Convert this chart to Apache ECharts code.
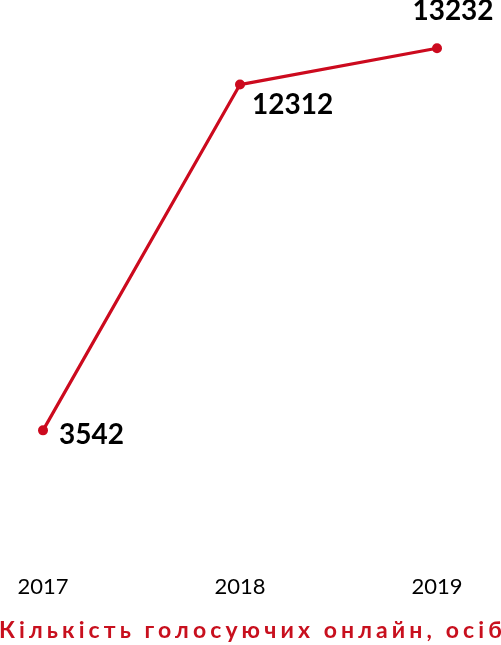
<!DOCTYPE html>
<html><head><meta charset="utf-8">
<script src="https://cdn.jsdelivr.net/npm/echarts@6/dist/echarts.min.js"></script>
<style>
html,body{margin:0;padding:0;background:#fff;}
#wrap{position:relative;width:501px;height:645px;overflow:hidden;}
#chart{position:absolute;left:0;top:0;width:501px;height:645px;}
#ttl{position:absolute;left:-1px;top:615px;white-space:nowrap;font-family:Lato,sans-serif;font-weight:bold;font-size:23px;color:#C8101E;letter-spacing:4.1px;line-height:28px;}
</style>
</head><body>
<div id="wrap"><div id="chart"></div><div id="ttl"></div></div>
<script>
const categories = ['2017', '2018', '2019'];
const values = [3542, 12312, 13232];
const titleText = 'Кількість голосуючих онлайн, осіб';

document.getElementById('ttl').textContent = titleText;
const chart = echarts.init(document.getElementById('chart'));
const labelPos = [
  {position: 'right', offset: [6, 5]},
  {position: 'right', offset: [2, 20]},
  {position: 'top', offset: [16, -13]}
];
chart.setOption({
  animation: false,
  grid: {left: 43, right: 64, top: 18, bottom: 75},
  xAxis: {
    type: 'category', data: categories, boundaryGap: false,
    axisLine: {show: false}, axisTick: {show: false},
    axisLabel: {fontFamily: 'Lato', fontSize: 22, color: '#000', margin: 6}
  },
  yAxis: {type: 'value', min: 0, max: 14000, show: false, splitLine: {show: false}},
  series: [{
    type: 'line',
    data: values.map((v, i) => ({value: v, label: labelPos[i]})),
    symbol: 'circle', symbolSize: 10,
    lineStyle: {color: '#CC0A1E', width: 3.2},
    itemStyle: {color: '#CC0A1E'},
    label: {show: true, fontFamily: 'Lato', fontWeight: 'bold', fontSize: 28, color: '#000'}
  }]
});
</script>
</body></html>
